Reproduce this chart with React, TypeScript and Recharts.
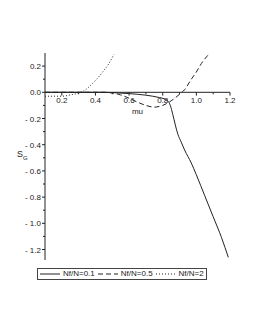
import React from 'react';
import { LineChart, Line, XAxis, YAxis, ReferenceLine, ReferenceDot, Legend, Label } from 'recharts';

// mu values and S_G values for each curve
const muLow = [0.1, 0.3, 0.45, 0.5, 0.6, 0.7, 0.78, 0.81, 0.83, 0.845, 0.86, 0.875, 0.89, 0.91, 0.93, 0.97, 1.0, 1.05, 1.1, 1.15, 1.19];
const sgLow = [0, 0, 0, -0.002, -0.01, -0.022, -0.04, -0.05, -0.065, -0.1, -0.17, -0.25, -0.32, -0.38, -0.44, -0.54, -0.63, -0.79, -0.95, -1.11, -1.26];

const muMid = [0.1, 0.3, 0.45, 0.5, 0.55, 0.6, 0.65, 0.7, 0.75, 0.8, 0.85, 0.9, 0.93, 0.97, 1.0, 1.03, 1.06, 1.08];
const sgMid = [0, 0, 0, -0.005, -0.02, -0.045, -0.075, -0.1, -0.113, -0.1, -0.065, -0.015, 0.02, 0.1, 0.155, 0.22, 0.27, 0.3];

const muHigh = [0.1, 0.15, 0.2, 0.25, 0.3, 0.33, 0.36, 0.4, 0.44, 0.48, 0.51];
const sgHigh = [-0.03, -0.03, -0.03, -0.02, -0.005, 0.01, 0.04, 0.09, 0.15, 0.22, 0.29];

const xMajor = [0.2, 0.4, 0.6, 0.8, 1.0, 1.2];
const xMajorLabels = ['0.2', '0.4', '0.6', '0.8', '1.0', '1.2'];
const xMinor = [0.3, 0.5, 0.7, 0.9, 1.1];

const yMajor = [0.2, 0, -0.2, -0.4, -0.6, -0.8, -1.0, -1.2];
const yMajorLabels = ['0.2', '0.0', '- 0.2', '- 0.4', '- 0.6', '- 0.8', '- 1.0', '- 1.2'];
const yMinor = [0.1, -0.1, -0.3, -0.5, -0.7, -0.9, -1.1];

const seriesNames = ['Nf/N=0.1', 'Nf/N=0.5', 'Nf/N=2'];
const seriesDash = ['', '5 3', '1 2'];

const toPoints = (xs: number[], ys: number[]) => xs.map((x, i) => ({ x, y: ys[i] }));

const ink = '#222';
const font = '"Liberation Sans", Arial, sans-serif';

const YTick = (props: any) => {
  const { x, y, payload } = props;
  const idx = yMajor.findIndex(v => Math.abs(v - payload.value) < 1e-6);
  const major = idx >= 0;
  return (
    <g>
      <line x1={x} x2={x - (major ? 3 : 2)} y1={y} y2={y} stroke={ink} strokeWidth={1} />
      {major && (
        <text x={x - 4} y={y} dy={3} textAnchor="end" fontSize={8} fill={ink} fontFamily={font}>
          {yMajorLabels[idx]}
        </text>
      )}
    </g>
  );
};

const LegendBox = () => (
  <div
    style={{
      display: 'inline-flex',
      alignItems: 'center',
      border: '1px solid #444',
      height: 10,
      padding: '0 2px',
      fontSize: 8,
      fontFamily: font,
      color: ink,
      lineHeight: '10px',
      whiteSpace: 'nowrap',
    }}
  >
    {seriesNames.map((name, i) => (
      <span key={name} style={{ display: 'inline-flex', alignItems: 'center', marginRight: i < 2 ? 3 : 0 }}>
        <svg width={20} height={6} style={{ marginRight: 3 }}>
          <line x1={0} x2={20} y1={3} y2={3} stroke={ink} strokeWidth={1} strokeDasharray={seriesDash[i] || undefined} />
        </svg>
        {name}
      </span>
    ))}
  </div>
);

export default function App() {
  const lines = [toPoints(muLow, sgLow), toPoints(muMid, sgMid), toPoints(muHigh, sgHigh)];
  return (
    <div style={{ position: 'absolute', left: 0, top: 0, background: '#fff' }}>
      <LineChart width={253} height={327} margin={{ top: 53, right: 23, left: 5, bottom: 54 }} style={{ fontFamily: font }}>
        <XAxis type="number" dataKey="x" domain={[0.1, 1.2]} hide allowDataOverflow />
        <YAxis
          type="number"
          domain={[-1.28, 0.3]}
          ticks={[...yMajor, ...yMinor]}
          interval={0}
          width={40}
          axisLine={{ stroke: ink }}
          tickLine={false}
          tickSize={0}
          tickMargin={0}
          tick={<YTick />}
          allowDataOverflow
        >
          <Label
            content={(p: any) => {
              const vb = p.viewBox;
              return (
                <text x={vb.x + 12} y={vb.y + vb.height / 2} fontSize={9} fill={ink} fontFamily={font}>
                  S<tspan dy={3} fontSize={6}>G</tspan>
                </text>
              );
            }}
          />
        </YAxis>
        <ReferenceLine y={0} stroke={ink} strokeWidth={1} />
        {xMajor.map((v, i) => (
          <ReferenceLine key={'M' + v} segment={[{ x: v, y: 0 }, { x: v, y: -0.025 }]} stroke={ink}>
            <Label value={xMajorLabels[i]} position="bottom" offset={2} fontSize={8} fill={ink} stroke="none" />
          </ReferenceLine>
        ))}
        {xMinor.map(v => (
          <ReferenceLine key={'m' + v} segment={[{ x: v, y: 0 }, { x: v, y: -0.015 }]} stroke={ink} />
        ))}
        <ReferenceDot x={0.65} y={-0.14} r={0} fill="none" stroke="none">
          <Label
            content={(p: any) => {
              const vb = p.viewBox;
              return (
                <text x={vb.x + vb.width / 2} y={vb.y + vb.height / 2} dy={3} textAnchor="middle" fontSize={8} fill={ink} fontFamily={font}>
                  mu
                </text>
              );
            }}
          />
        </ReferenceDot>
        {lines.map((d, i) => (
          <Line
            key={seriesNames[i]}
            data={d}
            dataKey="y"
            name={seriesNames[i]}
            type="monotone"
            stroke={ink}
            strokeWidth={1}
            strokeDasharray={seriesDash[i] || undefined}
            dot={false}
            activeDot={false}
            isAnimationActive={false}
          />
        ))}
        <Legend
          verticalAlign="bottom"
          align="left"
          height={13}
          wrapperStyle={{ left: 37, top: 263, width: 'auto' }}
          content={<LegendBox />}
        />
      </LineChart>
    </div>
  );
}
